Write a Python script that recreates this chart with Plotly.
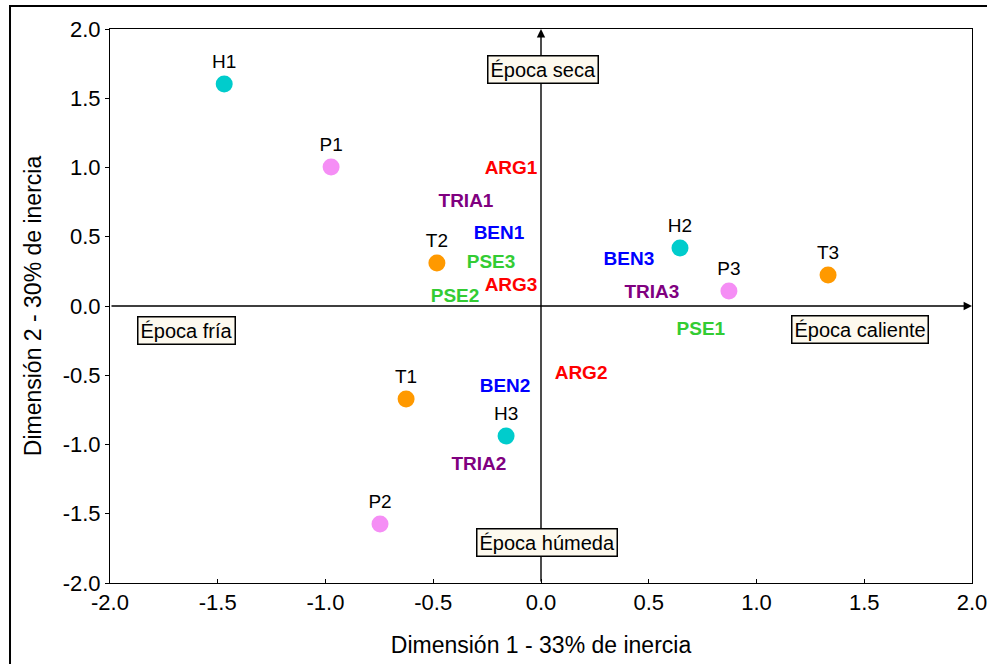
import plotly.graph_objects as go

# Sample scores (points) on the first two dimensions
sample_names = ["H1", "H2", "H3", "P1", "P2", "P3", "T1", "T2", "T3"]
sample_x = [-1.47, 0.645, -0.162, -0.974, -0.747, 0.872, -0.626, -0.483, 1.332]
sample_y = [1.603, 0.419, -0.939, 1.004, -1.574, 0.108, -0.671, 0.310, 0.224]
sample_colors = ["#00cccc", "#00cccc", "#00cccc",
                 "#f58ef5", "#f58ef5", "#f58ef5",
                 "#ff9900", "#ff9900", "#ff9900"]

# Variable labels (text only)
var_names = ["ARG1", "ARG2", "ARG3", "TRIA1", "TRIA2", "TRIA3",
             "BEN1", "BEN2", "BEN3", "PSE1", "PSE2", "PSE3"]
var_x = [-0.139, 0.186, -0.139, -0.348, -0.288, 0.515,
         -0.195, -0.167, 0.408, 0.742, -0.399, -0.232]
var_y = [0.989, -0.491, 0.144, 0.751, -1.148, 0.094,
         0.520, -0.585, 0.332, -0.173, 0.065, 0.310]
var_colors = ["#ff0000"] * 3 + ["#800080"] * 3 + ["#0000ff"] * 3 + ["#33cc33"] * 3

# Season boxes
season_text = ["Época seca", "Época fría", "Época caliente", "Época húmeda"]
season_x = [0.01, -1.647, 1.48, 0.03]
season_y = [1.711, -0.18, -0.173, -1.711]

tick_vals = [-2.0, -1.5, -1.0, -0.5, 0.0, 0.5, 1.0, 1.5, 2.0]
tick_text = ["-2.0", "-1.5", "-1.0", "-0.5", "0.0", "0.5", "1.0", "1.5", "2.0"]

FONT = "Liberation Sans, Arial, sans-serif"

fig = go.Figure()

fig.add_trace(go.Scatter(
    x=sample_x, y=sample_y, mode="markers+text",
    text=sample_names, textposition="top center",
    textfont=dict(size=19, color="black", family=FONT),
    marker=dict(size=17, color=sample_colors, line=dict(width=0)),
    hoverinfo="text", showlegend=False, cliponaxis=False,
))

fig.add_trace(go.Scatter(
    x=var_x, y=var_y, mode="text", text=[f"<b>{t}</b>" for t in var_names],
    textposition="middle center",
    textfont=dict(size=19, color=var_colors, family=FONT),
    showlegend=False, cliponaxis=False,
))

# Axes through the origin with arrowheads
fig.add_annotation(x=0, y=2.0, ax=0, ay=-2.0, xref="x", yref="y", axref="x", ayref="y",
                   text="", showarrow=True, arrowhead=2, arrowsize=1.2, arrowwidth=1.4,
                   arrowcolor="black", standoff=0)
fig.add_annotation(x=2.0, y=0, ax=-2.0, ay=0, xref="x", yref="y", axref="x", ayref="y",
                   text="", showarrow=True, arrowhead=2, arrowsize=1.2, arrowwidth=1.4,
                   arrowcolor="black", standoff=0)

for t, sx, sy in zip(season_text, season_x, season_y):
    fig.add_annotation(x=sx, y=sy, xref="x", yref="y", text=t, showarrow=False,
                       font=dict(size=20, color="black", family=FONT),
                       bgcolor="#fdf9ee", bordercolor="black", borderwidth=1.5, borderpad=2)

# Outer frame of the figure
fig.add_shape(type="rect", xref="paper", yref="paper",
              x0=-0.116, x1=1.2, y0=-0.3, y1=1.0415,
              line=dict(color="black", width=2), fillcolor="rgba(0,0,0,0)")

axis_common = dict(
    range=[-2.0, 2.0], tickvals=tick_vals, ticktext=tick_text,
    showgrid=False, zeroline=False, showline=True, linecolor="black", linewidth=1,
    mirror=True, ticklen=4, tickcolor="black", automargin=False,
    ticklabeloverflow="allow",
    tickfont=dict(size=22, color="black", family=FONT),
)

fig.update_xaxes(**axis_common, ticks="inside",
                 title=dict(text="Dimensión 1 - 33% de inercia", standoff=22,
                            font=dict(size=23, color="black", family=FONT)))
fig.update_yaxes(**axis_common, ticks="outside",
                 title=dict(text="Dimensión 2 - 30% de inercia", standoff=14,
                            font=dict(size=23, color="black", family=FONT)))

fig.update_layout(
    width=987, height=664,
    margin=dict(l=110, r=15, t=29, b=81),
    paper_bgcolor="white", plot_bgcolor="white",
    font=dict(family=FONT),
)

fig.write_html("out.html")
